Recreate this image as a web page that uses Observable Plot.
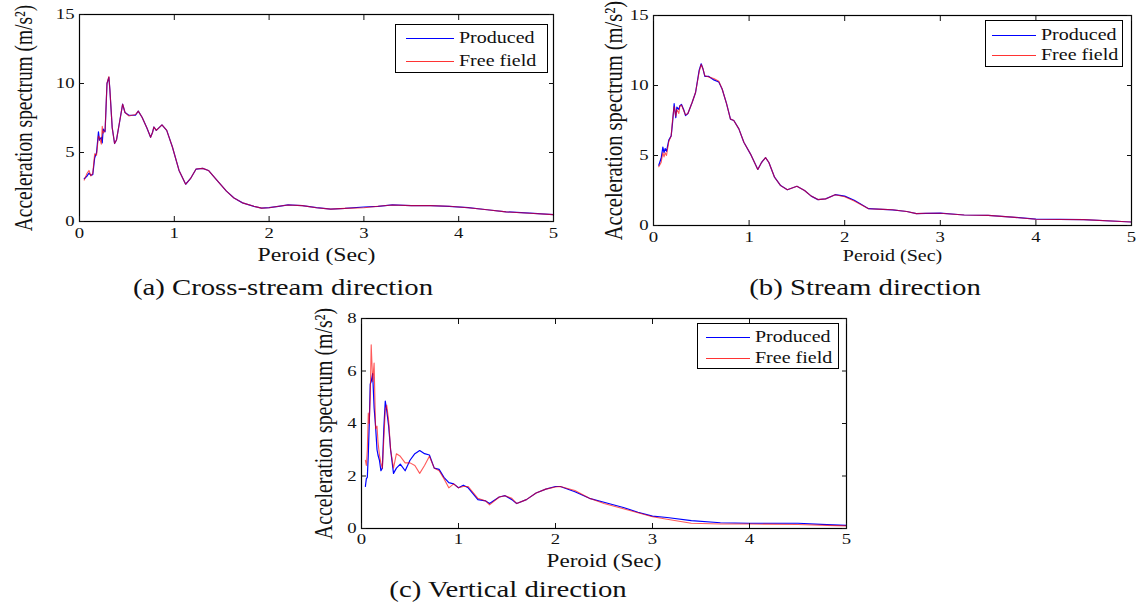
<!DOCTYPE html>
<html>
<head>
<meta charset="utf-8">
<script src="https://cdn.jsdelivr.net/npm/d3@7"></script>
<script src="https://cdn.jsdelivr.net/npm/@observablehq/plot@0.6"></script>
<style>
  html, body { margin: 0; padding: 0; background: #fff; }
  #root { position: relative; width: 1136px; height: 605px; overflow: hidden; font-family: "Liberation Serif", "Times New Roman", serif; }
  .panel { position: absolute; }
  .panel svg { overflow: visible; }
  .cap { position: absolute; font-size: 23px; line-height: 26px; color: #111; white-space: nowrap; transform: translateX(-50%) scaleX(1.25); }
  .legend { position: absolute; border: 1.5px solid #000; background: #fff; box-sizing: border-box; }
  .legend .row { position: absolute; left: 0; right: 0; height: 20px; }
  .legend .sw { position: absolute; top: 10px; height: 0; }
  .legend .lt { position: absolute; top: 0; line-height: 20px; color: #111; white-space: nowrap; transform: scaleX(1.25); transform-origin: 0 50%; }
  g[aria-label="y-axis label"] text { font-size: 19.4px; }
  g[aria-label="x-axis label"] text { font-size: 19px; }
  .pb g[aria-label="x-axis label"] text { font-size: 16px; }
  .pb g[aria-label="y-axis label"] text { font-size: 20.5px; }
  .pc g[aria-label="y-axis label"] text { font-size: 19.8px; }
  .pc g[aria-label="x-axis label"] text { font-size: 18.5px; }
</style>
</head>
<body>
<div id="root"></div>
<script>
// ---------- data ----------
const seriesNames = ["Produced", "Free field"];
const seriesColors = ["#0000ff", "#ff0000"];
const xTicks = [0, 1, 2, 3, 4, 5];
const yTicksAB = [0, 5, 10, 15];
const yTicksC = [0, 2, 4, 6, 8];
const captions = ["(a) Cross-stream direction", "(b) Stream direction", "(c) Vertical direction"];
const xLabel = "Peroid (Sec)";
const yLabel = "Acceleration spectrum (m/s²)";

// (a) Cross-stream direction
const aT = [0.05,0.08,0.10,0.12,0.14,0.16,0.18,0.20,0.21,0.23,0.24,0.25,0.27,0.29,0.31,0.32,0.345,0.37,0.39,0.425,0.455,0.48,0.52,0.59,0.62,0.66,0.71,0.75,0.77,0.785,0.81,0.87,0.92,0.98,1.05,1.12,1.17,1.23,1.3,1.36,1.46,1.55,1.63,1.72,1.84,1.92,2.0,2.1,2.2,2.35,2.5,2.65,2.8,3.0,3.15,3.3,3.5,3.7,3.9,4.1,4.3,4.5,4.75,5.0];
const aProduced = [3.1,3.3,3.5,3.35,3.4,4.6,5.0,6.5,5.9,6.1,5.7,6.7,6.5,10.0,10.45,9.6,6.8,5.65,5.9,7.3,8.5,7.9,7.7,7.7,8.0,7.55,6.8,6.1,6.45,6.85,6.6,7.0,6.6,5.4,3.7,2.7,3.1,3.8,3.85,3.7,2.9,2.2,1.7,1.35,1.1,0.97,1.0,1.1,1.2,1.15,1.0,0.9,0.95,1.05,1.1,1.2,1.15,1.15,1.1,1.0,0.85,0.7,0.6,0.5];
const aFree     = [3.0,3.5,3.7,3.3,3.5,4.9,4.8,6.2,6.1,5.6,6.9,6.4,6.6,10.0,10.5,9.6,6.8,5.65,5.9,7.3,8.5,7.9,7.65,7.75,8.0,7.55,6.8,6.1,6.45,6.85,6.6,7.0,6.6,5.4,3.7,2.7,3.1,3.8,3.85,3.7,2.9,2.2,1.7,1.35,1.1,0.97,1.0,1.1,1.2,1.15,1.0,0.9,0.95,1.0,1.1,1.2,1.15,1.15,1.1,1.0,0.85,0.7,0.6,0.5];

// (b) Stream direction
const bT = [0.055,0.08,0.098,0.11,0.122,0.136,0.16,0.185,0.20,0.216,0.233,0.244,0.265,0.275,0.293,0.317,0.335,0.36,0.405,0.44,0.478,0.499,0.517,0.537,0.579,0.631,0.683,0.718,0.764,0.805,0.84,0.893,0.945,1.015,1.091,1.13,1.172,1.207,1.266,1.33,1.4,1.5,1.58,1.65,1.72,1.8,1.9,2.0,2.1,2.25,2.4,2.5,2.65,2.75,2.85,3.0,3.25,3.5,3.75,4.0,4.5,5.0];
const bProduced = [4.3,4.8,5.6,5.2,5.5,5.3,6.1,6.4,7.4,8.7,7.7,8.45,8.3,8.55,8.65,8.25,7.85,8.0,8.8,9.5,11.1,11.55,11.2,10.65,10.65,10.4,10.25,9.75,8.7,7.6,7.5,6.9,5.95,5.1,4.0,4.5,4.85,4.5,3.45,2.85,2.55,2.8,2.5,2.1,1.85,1.9,2.2,2.1,1.8,1.2,1.15,1.12,1.0,0.85,0.87,0.88,0.75,0.72,0.6,0.45,0.42,0.25];
const bFree     = [4.2,4.5,5.2,4.9,5.2,5.0,6.0,6.4,7.6,8.5,7.8,8.3,8.0,8.5,8.6,8.2,7.9,8.0,8.8,9.5,11.0,11.5,11.2,10.7,10.6,10.5,10.3,9.75,8.7,7.6,7.5,6.9,5.95,5.1,4.0,4.5,4.85,4.5,3.45,2.85,2.55,2.8,2.5,2.1,1.85,1.9,2.2,2.05,1.75,1.2,1.15,1.12,1.0,0.85,0.87,0.88,0.75,0.72,0.6,0.45,0.42,0.25];

// (c) Vertical direction
const cT = [0.04,0.05,0.06,0.07,0.08,0.09,0.10,0.115,0.13,0.145,0.16,0.17,0.185,0.20,0.215,0.23,0.245,0.26,0.28,0.30,0.33,0.36,0.40,0.45,0.50,0.55,0.60,0.65,0.70,0.75,0.80,0.85,0.90,0.95,1.0,1.05,1.1,1.2,1.28,1.32,1.42,1.48,1.55,1.6,1.7,1.8,1.9,2.0,2.05,2.2,2.35,2.5,2.7,2.85,3.0,3.15,3.4,3.7,4.0,4.5,4.8,5.0];
const cProduced = [1.6,1.9,1.95,2.8,4.0,5.5,5.6,5.9,4.6,3.9,3.0,2.8,2.6,2.2,2.3,3.8,4.85,4.5,3.9,3.0,2.1,2.3,2.45,2.2,2.6,2.85,2.97,2.85,2.8,2.3,2.25,1.95,1.75,1.7,1.55,1.65,1.55,1.1,1.05,0.95,1.2,1.25,1.1,0.95,1.1,1.35,1.5,1.6,1.6,1.4,1.15,1.0,0.8,0.62,0.47,0.42,0.3,0.22,0.2,0.2,0.15,0.12];
const cFree     = [2.6,2.4,3.0,4.4,4.0,5.0,7.0,5.6,6.3,3.8,3.9,3.3,2.8,2.5,2.3,3.4,4.5,4.7,4.1,3.0,2.3,2.85,2.75,2.5,2.5,2.4,2.1,2.4,2.75,2.3,2.2,1.9,1.55,1.7,1.55,1.6,1.6,1.15,1.05,0.9,1.2,1.25,1.15,0.95,1.1,1.35,1.5,1.58,1.6,1.45,1.15,0.95,0.75,0.6,0.45,0.35,0.2,0.17,0.17,0.15,0.12,0.1];

// ---------- drawing ----------
const root = document.getElementById("root");
const FONT = '"Liberation Serif", "Times New Roman", serif';
const STRETCH = 1.25; // the reference's lettering is horizontally widened

function rows(t, p, f) {
  const out = [];
  t.forEach((x, i) => out.push({t: x, v: p[i], s: seriesNames[0]}));
  t.forEach((x, i) => out.push({t: x, v: f[i], s: seriesNames[1]}));
  return out;
}

function widenText(svg) {
  svg.querySelectorAll("text").forEach(t => {
    const tr = t.getAttribute("transform");
    if (!tr) return;
    t.setAttribute("transform", tr + (/rotate/.test(tr) ? ` scale(1,${STRETCH})` : ` scale(${STRETCH},1)`));
  });
}

function panel(cfg) {
  const data = rows(cfg.t, cfg.p, cfg.f);
  const chart = Plot.plot({
    width: cfg.width,
    height: cfg.height,
    marginLeft: cfg.ml, marginRight: cfg.mr, marginTop: cfg.mt, marginBottom: cfg.mb,
    style: {fontFamily: FONT, fontSize: "15px", color: "#111", background: "transparent", overflow: "visible"},
    x: {domain: [0, 5]},
    y: {domain: cfg.yDomain},
    marks: [
      Plot.line(data.filter(d => d.s === seriesNames[0]), {x: "t", y: "v", stroke: seriesColors[0], strokeWidth: 1.2}),
      Plot.line(data.filter(d => d.s === seriesNames[1]), {x: "t", y: "v", stroke: seriesColors[1], strokeWidth: 1.1, strokeOpacity: 0.65}),
      Plot.frame({stroke: "#000", strokeWidth: 1.2}),
      Plot.axisX({anchor: "bottom", ticks: xTicks, tickFormat: d3.format("d"), tickSize: -5, tickPadding: cfg.xtp, label: xLabel, labelAnchor: "center", labelArrow: "none", labelOffset: cfg.xlo}),
      Plot.axisX({anchor: "top", ticks: xTicks, tickSize: -5, tickFormat: () => "", label: null}),
      Plot.axisY({anchor: "left", ticks: cfg.yTicks, tickFormat: d3.format("d"), tickSize: -5, tickPadding: 10, label: yLabel, labelAnchor: "center", labelArrow: "none", labelOffset: cfg.ylo}),
      Plot.axisY({anchor: "right", ticks: cfg.yTicks, tickSize: -5, tickFormat: () => "", label: null})
    ]
  });
  widenText(chart);
  const div = document.createElement("div");
  div.className = "panel " + cfg.cls;
  div.style.left = cfg.left + "px";
  div.style.top = cfg.top + "px";
  div.appendChild(chart);
  root.appendChild(div);

  const lg = document.createElement("div");
  lg.className = "legend";
  Object.assign(lg.style, {left: cfg.lg.x + "px", top: cfg.lg.y + "px", width: cfg.lg.w + "px", height: cfg.lg.h + "px", fontSize: cfg.lg.fs + "px"});
  seriesNames.forEach((name, i) => {
    const r = document.createElement("div");
    r.className = "row";
    r.style.top = (cfg.lg.r0 + i * cfg.lg.dr) + "px";
    const sw = document.createElement("div");
    sw.className = "sw";
    Object.assign(sw.style, {left: cfg.lg.sx + "px", width: cfg.lg.sw + "px", borderTop: "1.5px solid " + seriesColors[i], opacity: i ? 0.8 : 1});
    const lt = document.createElement("div");
    lt.className = "lt";
    lt.style.left = cfg.lg.tx + "px";
    lt.textContent = name;
    r.appendChild(sw); r.appendChild(lt);
    lg.appendChild(r);
  });
  root.appendChild(lg);

  const cap = document.createElement("div");
  cap.className = "cap";
  cap.style.left = cfg.cap.x + "px";
  cap.style.top = cfg.cap.y + "px";
  cap.textContent = cfg.cap.text;
  root.appendChild(cap);
}

panel({cls: "pa", left: 0, top: 0, width: 570, height: 270, ml: 79, mr: 17, mt: 14, mb: 49, xtp: 11, xlo: 39, ylo: 65,
  t: aT, p: aProduced, f: aFree, yDomain: [0, 15], yTicks: yTicksAB,
  lg: {x: 395, y: 24, w: 153, h: 49, fs: 16, r0: 3, dr: 23, sx: 10, sw: 48, tx: 63},
  cap: {x: 283, y: 275, text: captions[0]}});

panel({cls: "pb", left: 570, top: 0, width: 566, height: 270, ml: 83, mr: 5, mt: 15, mb: 45, xtp: 11, xlo: 35, ylo: 50,
  t: bT, p: bProduced, f: bFree, yDomain: [0, 15], yTicks: yTicksAB,
  lg: {x: 985, y: 20, w: 138, h: 47, fs: 16, r0: 4, dr: 20, sx: 6, sw: 44, tx: 55},
  cap: {x: 865, y: 275, text: captions[1]}});

panel({cls: "pc", left: 300, top: 300, width: 560, height: 270, ml: 61, mr: 14, mt: 18, mb: 42, xtp: 10, xlo: 38, ylo: 47,
  t: cT, p: cProduced, f: cFree, yDomain: [0, 8], yTicks: yTicksC,
  lg: {x: 697, y: 323, w: 142, h: 46, fs: 16, r0: 3, dr: 21, sx: 8, sw: 44, tx: 57},
  cap: {x: 508, y: 577, text: captions[2]}});
</script>
</body>
</html>
